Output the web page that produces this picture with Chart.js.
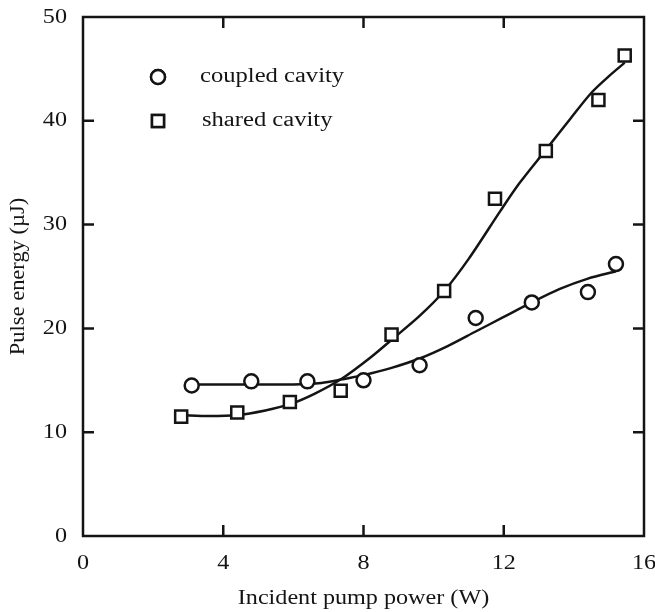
<!DOCTYPE html>
<html>
<head>
<meta charset="utf-8">
<script src="https://cdn.jsdelivr.net/npm/chart.js@4"></script>
<style>
  html, body { margin: 0; padding: 0; background: #fff; }
  canvas { display: block; }
</style>
</head>
<body>
<canvas id="chart" width="655" height="612"></canvas>
<script>
// measured points
var coupledX = [3.1, 4.8, 6.4, 8.0, 9.6, 11.2, 12.8, 14.4, 15.2];
var coupledY = [14.5, 14.9, 14.9, 15.0, 16.45, 21.0, 22.5, 23.5, 26.2];
var sharedX = [2.8, 4.4, 5.9, 7.35, 8.8, 10.3, 11.75, 13.2, 14.7, 15.45];
var sharedY = [11.5, 11.9, 12.9, 14.0, 19.4, 23.6, 32.5, 37.1, 42.0, 46.3];

// fitted curves
var coupledFitX = [3.1, 4.5, 6.0, 6.8, 7.4, 8.0, 8.8, 9.6, 10.4, 11.2, 12.0, 12.8, 13.6, 14.4, 15.2];
var coupledFitY = [14.6, 14.6, 14.6, 14.75, 15.1, 15.5, 16.2, 17.1, 18.3, 19.7, 21.1, 22.5, 23.8, 24.8, 25.5];
var sharedFitX = [2.8, 3.6, 4.4, 5.2, 5.9, 6.6, 7.4, 8.2, 8.8, 9.6, 10.3, 11.0, 11.9, 12.45, 13.2, 13.9, 14.5, 15.0, 15.45];
var sharedFitY = [11.65, 11.55, 11.65, 12.1, 12.7, 13.7, 15.2, 17.2, 18.9, 21.2, 23.6, 26.7, 31.3, 34.0, 37.2, 40.2, 42.7, 44.3, 45.6];

var seriesNames = ['coupled cavity', 'shared cavity'];
var xTicks = [0, 4, 8, 12, 16];
var yTicks = [0, 10, 20, 30, 40, 50];
var xTitle = 'Incident pump power (W)';
var yTitle = 'Pulse energy (\u00b5J)';

var ink = '#141414';
var serif = '"Liberation Serif", "Times New Roman", serif';

function pts(xs, ys) {
	return xs.map((x, i) => { return { x: x, y: ys[i] } });
}

// text in the figure is a wide serif, so stretch it a bit
function wideText(ctx, text, x, y, align, sx) {
	ctx.save();
	ctx.translate(x, y);
	ctx.scale(sx, 1);
	ctx.textAlign = align;
	ctx.fillText(text, 0, 0);
	ctx.restore();
}

var framePlugin = {
	id: 'frame',
	afterDatasetsDraw: function (chart) {
		var ctx = chart.ctx;
		var a = chart.chartArea;
		var xs = chart.scales.x, ys = chart.scales.y;
		var tick = 11;
		ctx.save();
		ctx.strokeStyle = ink;
		ctx.fillStyle = ink;
		ctx.lineWidth = 2.5;
		ctx.strokeRect(a.left, a.top, a.right - a.left, a.bottom - a.top);

		// inward ticks on all four sides
		ctx.beginPath();
		xTicks.forEach(v => {
			if (v == xs.min || v == xs.max) return;
			var px = xs.getPixelForValue(v);
			ctx.moveTo(px, a.bottom); ctx.lineTo(px, a.bottom - tick);
			ctx.moveTo(px, a.top); ctx.lineTo(px, a.top + tick);
		});
		yTicks.forEach(v => {
			if (v == ys.min || v == ys.max) return;
			var py = ys.getPixelForValue(v);
			ctx.moveTo(a.left, py); ctx.lineTo(a.left + tick, py);
			ctx.moveTo(a.right, py); ctx.lineTo(a.right - tick, py);
		});
		ctx.stroke();

		// tick labels
		ctx.font = '21px ' + serif;
		ctx.textBaseline = 'middle';
		xTicks.forEach(v => {
			wideText(ctx, String(v), xs.getPixelForValue(v), a.bottom + 27, 'center', 1.15);
		});
		yTicks.forEach(v => {
			wideText(ctx, String(v), a.left - 16, ys.getPixelForValue(v), 'right', 1.15);
		});

		// axis titles
		ctx.font = '21px ' + serif;
		wideText(ctx, xTitle, (a.left + a.right) / 2, a.bottom + 62, 'center', 1.15);
		ctx.save();
		ctx.translate(18, (a.top + a.bottom) / 2);
		ctx.rotate(-Math.PI / 2);
		wideText(ctx, yTitle, 0, 0, 'center', 1.07);
		ctx.restore();

		// legend
		var lx = a.left + 75;
		var rows = [a.top + 60, a.top + 104];
		var styles = ['circle', 'rect'];
		var radii = [7, 8.5];
		ctx.font = '20px ' + serif;
		rows.forEach((ly, i) => {
			ctx.fillStyle = '#fff';
			Chart.helpers.drawPoint(ctx, { pointStyle: styles[i], radius: radii[i], borderWidth: 2.5 }, lx, ly);
			ctx.fill();
			ctx.stroke();
			ctx.fillStyle = ink;
			wideText(ctx, seriesNames[i], lx + 42 + i * 2, ly, 'left', 1.23);
		});
		ctx.restore();
	}
};

var ctx = document.getElementById('chart').getContext('2d');

var chart = new Chart(ctx, {
	type: 'scatter',
	data: {
		datasets: [{
			label: seriesNames[0],
			data: pts(coupledX, coupledY),
			pointStyle: 'circle',
			pointRadius: 7,
			pointBorderWidth: 2.5,
			pointBorderColor: ink,
			pointBackgroundColor: '#fff',
			order: 0
		}, {
			label: seriesNames[1],
			data: pts(sharedX, sharedY),
			pointStyle: 'rect',
			pointRadius: 8.5,
			pointBorderWidth: 2.5,
			pointBorderColor: ink,
			pointBackgroundColor: '#fff',
			order: 0
		}, {
			label: 'coupled fit',
			data: pts(coupledFitX, coupledFitY),
			showLine: true,
			borderColor: ink,
			borderWidth: 2.5,
			pointRadius: 0,
			tension: 0.3,
			order: 1
		}, {
			label: 'shared fit',
			data: pts(sharedFitX, sharedFitY),
			showLine: true,
			borderColor: ink,
			borderWidth: 2.5,
			pointRadius: 0,
			tension: 0.3,
			order: 1
		}]
	},
	options: {
		responsive: false,
		animation: false,
		layout: { padding: { left: 83, right: 9.5, top: 17, bottom: 76 } },
		plugins: { legend: { display: false }, tooltip: { enabled: false } },
		scales: {
			x: { type: 'linear', min: 0, max: 16, display: false },
			y: { type: 'linear', min: 0, max: 50, display: false }
		}
	},
	plugins: [framePlugin]
});
</script>
</body>
</html>
